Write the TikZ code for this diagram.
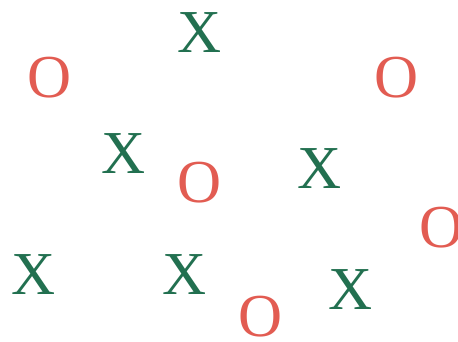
\documentclass[tikz,border=0pt]{standalone}
\usepackage{fontspec}
\setmainfont{Liberation Serif}
\definecolor{xgreen}{RGB}{34,112,80}
\definecolor{ored}{RGB}{226,92,82}
\tikzset{
  glyph/.style={inner sep=0pt, anchor=base, font=\fontsize{61}{61}\selectfont},
  xglyph/.style={glyph, text=xgreen},
  oglyph/.style={glyph, text=ored}
}
\begin{document}
\begin{tikzpicture}[x=1pt,y=1pt]
\useasboundingbox (0,0) rectangle (458,342);
\node[xglyph] (x1) at (200,289) {X};
\node[oglyph] (o1) at (49.5,244) {O};
\node[oglyph] (o2) at (397,244) {O};
\node[xglyph] (x2) at (124,168) {X};
\node[oglyph] (o3) at (200,139) {O};
\node[xglyph] (x3) at (320,153) {X};
\node[oglyph] (o4) at (442,94) {O};
\node[xglyph] (x4) at (34,47) {X};
\node[xglyph] (x5) at (185,47) {X};
\node[oglyph] (o5) at (261,5) {O};
\node[xglyph] (x6) at (351,32) {X};
\end{tikzpicture}
\end{document}
